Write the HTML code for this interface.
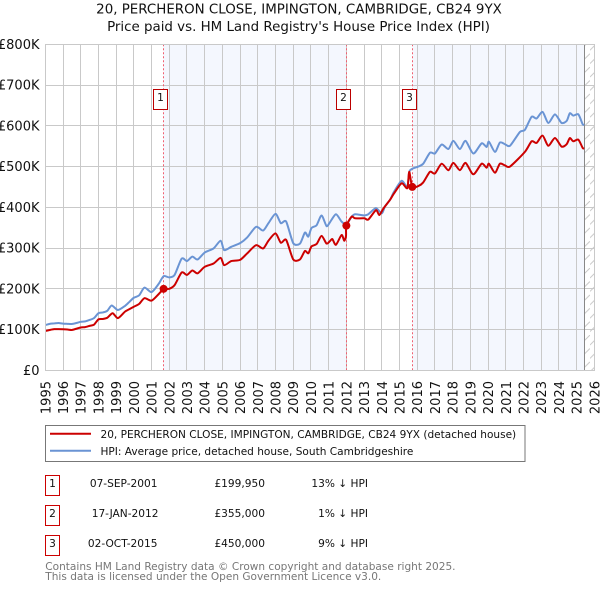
<!DOCTYPE html>
<html>
<head>
<meta charset="utf-8">
<style>
html,body{margin:0;padding:0;background:#fff;width:600px;height:590px;overflow:hidden}
svg{display:block}
text{font-family:"DejaVu Sans","Liberation Sans",sans-serif;fill:#111}
</style>
</head>
<body>
<svg id="chart" xmlns="http://www.w3.org/2000/svg" width="600" height="590" viewBox="0 0 600 590">
<defs>
<pattern id="hatch" patternUnits="userSpaceOnUse" width="10" height="13.4">
<path d="M0 10L10 0" stroke="#c8c8c8" stroke-width="1" fill="none"/>
</pattern>
</defs>
<text x="299" y="13.5" text-anchor="middle" font-size="13.4">20, PERCHERON CLOSE, IMPINGTON, CAMBRIDGE, CB24 9YX</text>
<text x="298.5" y="31" text-anchor="middle" font-size="13.4">Price paid vs. HM Land Registry's House Price Index (HPI)</text>
<g id="plot"></g>
<g>
<rect x="45.5" y="425.5" width="479.5" height="36" fill="#fff" stroke="#777" stroke-width="1"/>
<line x1="50" x2="91" y1="433.7" y2="433.7" stroke="#cc0000" stroke-width="2"/>
<text x="100.5" y="438" font-size="10.55">20, PERCHERON CLOSE, IMPINGTON, CAMBRIDGE, CB24 9YX (detached house)</text>
<line x1="50" x2="91" y1="450.7" y2="450.7" stroke="#6a94d4" stroke-width="2"/>
<text x="100.5" y="455" font-size="10.55">HPI: Average price, detached house, South Cambridgeshire</text>
</g>
<g>
<g>
<rect x="45.5" y="475.5" width="14" height="20" fill="#fff" stroke="#cc0000" stroke-width="1"/>
<text x="52.5" y="487" text-anchor="middle" font-size="10.6">1</text>
<text x="157.5" y="487" text-anchor="end" font-size="10.6">07-SEP-2001</text>
<text x="265" y="487" text-anchor="end" font-size="10.6">£199,950</text>
<text x="368" y="487" text-anchor="end" font-size="10.6">13% ↓ HPI</text>
</g>
<g>
<rect x="45.5" y="505.5" width="14" height="20" fill="#fff" stroke="#cc0000" stroke-width="1"/>
<text x="52.5" y="517" text-anchor="middle" font-size="10.6">2</text>
<text x="158.5" y="517" text-anchor="end" font-size="10.6">17-JAN-2012</text>
<text x="265" y="517" text-anchor="end" font-size="10.6">£355,000</text>
<text x="368" y="517" text-anchor="end" font-size="10.6">1% ↓ HPI</text>
</g>
<g>
<rect x="45.5" y="535.5" width="14" height="20" fill="#fff" stroke="#cc0000" stroke-width="1"/>
<text x="52.5" y="547" text-anchor="middle" font-size="10.6">3</text>
<text x="157.5" y="547" text-anchor="end" font-size="10.6">02-OCT-2015</text>
<text x="265" y="547" text-anchor="end" font-size="10.6">£450,000</text>
<text x="368" y="547" text-anchor="end" font-size="10.6">9% ↓ HPI</text>
</g>
</g>
<text x="45.3" y="570" font-size="10.55" style="fill:#777">Contains HM Land Registry data © Crown copyright and database right 2025.</text>
<text x="45.3" y="580" font-size="10.55" style="fill:#777">This data is licensed under the Open Government Licence v3.0.</text>
</svg>
<script>
const yearTicks = [1995,1996,1997,1998,1999,2000,2001,2002,2003,2004,2005,2006,2007,2008,2009,2010,2011,2012,2013,2014,2015,2016,2017,2018,2019,2020,2021,2022,2023,2024,2025,2026];
const valueTicks = [0,100,200,300,400,500,600,700,800];
const valueTickLabels = ['£0','£100K','£200K','£300K','£400K','£500K','£600K','£700K','£800K'];
const hpiDates = [1995,1995.25,1995.5,1995.75,1996,1996.25,1996.5,1996.75,1997,1997.25,1997.5,1997.75,1998,1998.25,1998.5,1998.75,1999.1,1999.5,1999.75,2000,2000.3,2000.6,2001,2001.4,2001.68,2002,2002.3,2002.7,2003,2003.3,2003.6,2004,2004.5,2004.9,2005.1,2005.5,2006,2006.4,2006.9,2007.3,2007.6,2008,2008.3,2008.6,2009,2009.38,2009.66,2009.85,2010.03,2010.32,2010.6,2010.88,2011.07,2011.41,2011.73,2012,2012.3,2012.49,2013.01,2013.24,2013.67,2014,2014.18,2014.46,2014.69,2015.12,2015.44,2015.55,2015.74,2016.06,2016.34,2016.72,2017,2017.38,2017.76,2018.04,2018.41,2018.73,2019.17,2019.64,2019.92,2020.05,2020.39,2020.67,2020.95,2021.24,2021.8,2022.08,2022.46,2022.74,2023.08,2023.4,2023.78,2024.15,2024.44,2024.62,2024.81,2025.1,2025.34,2025.43];
const hpiValues = [111,114,115,116,114.5,114,113.7,116,119,120,123.5,128,140,142,146,159,148,158,168,178,184,203,192,212,231,228,234,274,268,279,272,289,299,318,295,303,312,326,352,343,361,384,361,365,312,311,338,328,349,356,380,354,363,383,365,358,377,383,380,383,398,385,402,418,438,465,450,487,495,500,507,534,532,554,543,563,543,563,532,557,548,561,536,559,555,551,585,590,622,618,634,607,628,607,612,631,625,628,604,602];
const paidDates = [1995,1995.25,1995.5,1995.75,1996,1996.25,1996.5,1996.75,1997,1997.25,1997.5,1997.75,1998,1998.25,1998.5,1998.8,1999.1,1999.5,1999.75,2000,2000.3,2000.6,2001,2001.4,2001.68,2002,2002.3,2002.7,2003,2003.3,2003.6,2004,2004.5,2004.9,2005.1,2005.5,2006,2006.4,2006.9,2007.3,2007.6,2008,2008.3,2008.6,2009,2009.38,2009.66,2009.85,2010.03,2010.32,2010.6,2010.88,2011.07,2011.21,2011.41,2011.73,2011.88,2011.98,2012,2012.3,2012.49,2013.01,2013.24,2013.67,2013.86,2014.09,2014.46,2014.69,2015.12,2015.44,2015.55,2015.72,2016.06,2016.34,2016.72,2017,2017.38,2017.76,2018.04,2018.41,2018.73,2019.17,2019.64,2019.92,2020.05,2020.39,2020.67,2020.95,2021.24,2022.08,2022.46,2022.74,2023.08,2023.4,2023.78,2024.15,2024.44,2024.62,2024.81,2025.1,2025.34,2025.43];
const paidValues = [96.5,99,101,101,100.6,100,99,102,105,106,109,112,125,126,129,140,128,144,150,156,163,177,171,187,199,200,209,240,234,245,238,254,262,276,258,268,271,287,307,299,318,336,313,320,272,272,293,287,304,310,330,311,317,322,308,332,318,330,355,377,373,373,370,393,381,397,418,434,459,447,487,450,452,461,487,483,507,491,509,491,509,481,507,497,507,485,507,503,500,536,562,558,576,551,570,549,555,570,562,566,546,544];
const saleDates = [2001.68,2012.0,2015.72];
const salePrices = [199.95,355,450];
const saleLabels = ['1','2','3'];
const dataEnd = 2025.43;

const NS = 'http://www.w3.org/2000/svg';
const plot = document.getElementById('plot');
const left = 45.3, top0 = 44.3, bottom0 = 370.3, right = 594.3;
function xScale(year){ return left + (year - 1995) * (right - left) / 31; }
function yScale(value){ return bottom0 - value * (bottom0 - top0) / 800; }
function crisp(p){ return Math.floor(p) + 0.5; }
function make(tag, attrs, parent){
  const el = document.createElementNS(NS, tag);
  for (const k in attrs) el.setAttribute(k, attrs[k]);
  (parent || plot).appendChild(el);
  return el;
}

// shaded periods after each sale
const bandStops = [[saleDates[0], saleDates[1]], [saleDates[2], dataEnd]];
bandStops.forEach(function(b){
  const band = make('rect', {x: crisp(xScale(b[0])), y: yScale(800), width: xScale(b[1]) - xScale(b[0]), height: bottom0 - top0, fill: '#f4f7fe'});
  
  
});

// gridlines
valueTicks.forEach(function(v){
  const g = make('line', {x1: left, x2: right, y1: crisp(yScale(v)), y2: crisp(yScale(v)), stroke: '#c9c9c9', 'stroke-width': 1});
  
  
});
yearTicks.forEach(function(t){
  const g = make('line', {x1: crisp(xScale(t)), x2: crisp(xScale(t)), y1: top0, y2: bottom0, stroke: '#c9c9c9', 'stroke-width': 1});
  
  
});

// no-data hatch
const hatchRect = make('rect', {x: xScale(dataEnd), y: top0, width: right - xScale(dataEnd), height: bottom0 - top0, fill: 'url(#hatch)'});


const endLine = make('line', {x1: crisp(xScale(dataEnd)), x2: crisp(xScale(dataEnd)), y1: top0, y2: bottom0, stroke: '#888', 'stroke-width': 1});



// tick labels
valueTicks.forEach(function(v, i){
  const t = make('text', {x: 39.5, y: yScale(v) + 4.5, 'text-anchor': 'end', 'font-size': 13});
  t.textContent = valueTickLabels[i];
  
  
});
yearTicks.forEach(function(y){
  const px = xScale(y) + 5;
  const t = make('text', {x: px, y: 381, 'text-anchor': 'end', 'font-size': 13, transform: 'rotate(-90 ' + px + ' 381)'});
  t.textContent = String(y);
  
  
});

// sale marker lines
saleDates.forEach(function(d){
  const l = make('line', {x1: crisp(xScale(d)), x2: crisp(xScale(d)), y1: top0, y2: bottom0, stroke: '#f06070', 'stroke-width': 1, 'stroke-dasharray': '2 2'});
  
  
});

// series: curve through each read value
function pathFrom(dates, values){
  const pts = dates.map(function(d, i){ return [xScale(d), yScale(values[i])]; });
  let s = 'M' + pts[0][0].toFixed(2) + ' ' + pts[0][1].toFixed(2);
  for (let i = 0; i < pts.length - 1; i++){
    const p0 = pts[Math.max(i - 1, 0)], p1 = pts[i], p2 = pts[i + 1], p3 = pts[Math.min(i + 2, pts.length - 1)];
    const k = 1 / 8;
    s += 'C' + (p1[0] + (p2[0] - p0[0]) * k).toFixed(2) + ' ' + (p1[1] + (p2[1] - p0[1]) * k).toFixed(2) + ' ' +
         (p2[0] - (p3[0] - p1[0]) * k).toFixed(2) + ' ' + (p2[1] - (p3[1] - p1[1]) * k).toFixed(2) + ' ' +
         p2[0].toFixed(2) + ' ' + p2[1].toFixed(2);
  }
  return s;
}
const hpiLine = make('path', {d: pathFrom(hpiDates, hpiValues), fill: 'none', stroke: '#6a94d4', 'stroke-width': 2, 'stroke-linejoin': 'round'});


const paidLine = make('path', {d: pathFrom(paidDates, paidValues), fill: 'none', stroke: '#cc0000', 'stroke-width': 2, 'stroke-linejoin': 'round'});



// sale points and numbered flags
saleDates.forEach(function(d, i){
  const c = make('circle', {cx: xScale(d), cy: yScale(salePrices[i]), r: 4, fill: '#cc0000'});
  
  
  const cx = crisp(xScale(d)) - 3;
  const r = make('rect', {x: cx - 7, y: 89.5, width: 14, height: 20, fill: '#fff', stroke: '#bb0000', 'stroke-width': 1});
  
  
  const t = make('text', {x: cx, y: 101, 'text-anchor': 'middle', 'font-size': 10.6});
  t.textContent = saleLabels[i];
  
  
});

// plot border
const border = make('rect', {x: 45.5, y: 44.5, width: 549, height: 326, fill: 'none', stroke: '#c9c9c9', 'stroke-width': 1});


</script>
</body>
</html>
